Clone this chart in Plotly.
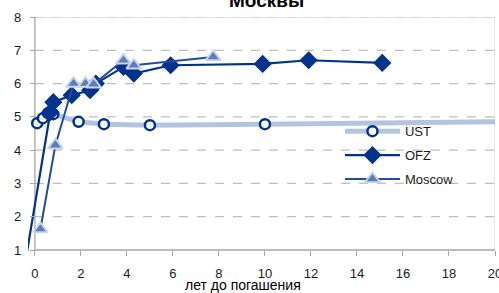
import plotly.graph_objects as go

# Data (years to maturity, yield %)
ust_x = [0.1, 0.35, 0.57, 0.8, 1.9, 3.0, 5.0, 10.0, 30.0]
ust_y = [4.81, 4.96, 5.11, 5.08, 4.85, 4.78, 4.75, 4.78, 4.93]

ofz_x = [-0.45, 0.67, 0.8, 1.6, 2.4, 2.65, 3.85, 4.3, 5.9, 9.9, 11.9, 15.1]
ofz_y = [0.5, 5.14, 5.44, 5.65, 5.8, 6.0, 6.5, 6.3, 6.55, 6.59, 6.7, 6.62]

mos_x = [0.24, 0.89, 1.68, 2.2, 2.55, 3.85, 4.3, 7.75]
mos_y = [1.63, 4.15, 6.0, 6.0, 5.98, 6.7, 6.55, 6.8]

x_ticks = [0, 2, 4, 6, 8, 10, 12, 14, 16, 18, 20]
y_ticks = [1, 2, 3, 4, 5, 6, 7, 8]

title_text = "Москвы"
x_title = "лет до погашения"

DARK = "#00338D"
MID = "#1F4E9E"
LIGHT = "#B4C4DF"
GRID = "#BFBFBF"
AXIS = "#A6A6A6"
FONT = "Liberation Sans, Arial, sans-serif"

X_MIN, X_MAX = -0.3, 20
Y_MIN, Y_MAX = 0.85, 8

fig = go.Figure()

fig.add_trace(go.Scatter(
    x=ust_x, y=ust_y, name="UST", mode="lines+markers",
    line=dict(color=LIGHT, width=5),
    marker=dict(symbol="circle", size=10, color="white",
                line=dict(color=DARK, width=2.5)),
    legendgroup="a",
))
fig.add_trace(go.Scatter(
    x=ofz_x, y=ofz_y, name="OFZ", mode="lines+markers",
    line=dict(color=DARK, width=2.2),
    marker=dict(symbol="diamond", size=14, color=DARK,
                line=dict(color=DARK, width=0)),
    legendgroup="b",
))
fig.add_trace(go.Scatter(
    x=mos_x, y=mos_y, name="Moscow", mode="lines+markers",
    line=dict(color=MID, width=2),
    marker=dict(symbol="triangle-up", size=13, color="#5B7DB8",
                line=dict(color="#C9D5EA", width=2)),
    legendgroup="c",
))

shapes = []
for v in y_ticks[1:]:
    shapes.append(dict(type="line", xref="x", yref="y", x0=0, x1=X_MAX,
                       y0=v, y1=v, line=dict(color=GRID, width=1.2, dash="dash"),
                       layer="below"))
shapes.append(dict(type="line", xref="x", yref="y", x0=0, x1=X_MAX, y0=Y_MAX, y1=Y_MAX,
                   line=dict(color="#D0D0D0", width=1), layer="below"))
shapes.append(dict(type="line", xref="x", yref="y", x0=X_MAX, x1=X_MAX, y0=1, y1=Y_MAX,
                   line=dict(color="#D0D0D0", width=1), layer="below"))
shapes.append(dict(type="line", xref="x", yref="y", x0=0, x1=X_MAX, y0=1, y1=1,
                   line=dict(color=AXIS, width=1.3), layer="below"))
shapes.append(dict(type="line", xref="x", yref="y", x0=0, x1=0, y0=1, y1=Y_MAX,
                   line=dict(color=AXIS, width=1.3), layer="below"))

ypos_x = (0 - X_MIN) / (X_MAX - X_MIN)
xpos_y = (1 - Y_MIN) / (Y_MAX - Y_MIN)

fig.update_layout(
    width=499, height=293,
    margin=dict(l=28, r=4, t=17, b=38, autoexpand=False),
    paper_bgcolor="white", plot_bgcolor="white",
    font=dict(family=FONT, size=13, color="#1a1a1a"),
    showlegend=True,
    legend=dict(x=0.668, y=0.583, xanchor="left", yanchor="top",
                bgcolor="rgba(0,0,0,0)", font=dict(size=13, color="#1a1a1a"),
                itemwidth=55, tracegroupgap=4),
    xaxis=dict(range=[X_MIN, X_MAX], tickvals=x_ticks, ticktext=[str(t) for t in x_ticks],
               showgrid=False, zeroline=False, showline=False, automargin=False,
               ticks="outside", ticklen=5, tickcolor=AXIS, tickwidth=1,
               anchor="free", position=xpos_y, ticklabelstandoff=6,
               ticklabeloverflow="allow", tickfont=dict(size=13)),
    yaxis=dict(range=[Y_MIN, Y_MAX], tickvals=y_ticks, ticktext=[str(t) for t in y_ticks],
               showgrid=False, zeroline=False, showline=False, automargin=False,
               ticks="outside", ticklen=5, tickcolor=AXIS, tickwidth=1,
               anchor="free", position=ypos_x, ticklabelstandoff=6,
               ticklabeloverflow="allow", tickfont=dict(size=13)),
    shapes=shapes,
    annotations=[
        dict(text="<b>" + title_text + "</b>", xref="paper", yref="paper",
             x=0.51, y=1.071, xanchor="center", yanchor="middle",
             showarrow=False, font=dict(size=19, color="black")),
        dict(text=x_title, xref="paper", yref="paper",
             x=0.46, y=-0.125, xanchor="center", yanchor="middle",
             showarrow=False, font=dict(size=14, color="black")),
    ],
)

fig.write_html("out.html", config={"displayModeBar": False},
               post_script="document.body.style.margin='0';document.body.style.padding='0';")
